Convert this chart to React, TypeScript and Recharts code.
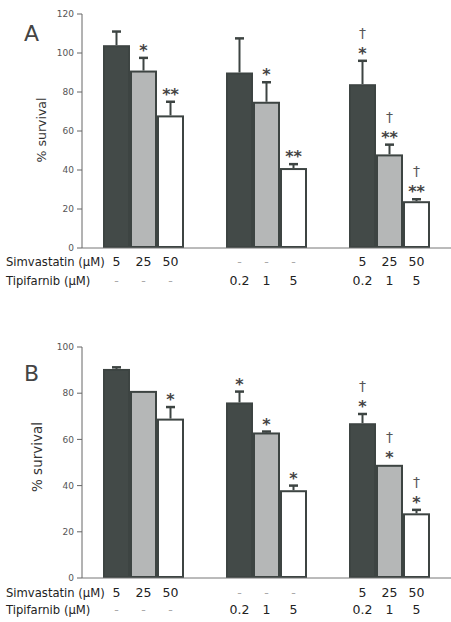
import React from 'react';
import { BarChart, Bar, XAxis, YAxis } from 'recharts';

// groups of treatment
const groups = ['simva', 'tipi', 'combo'];

// row labels under the bars
const simvaLabels = [['5', '25', '50'], ['-', '-', '-'], ['5', '25', '50']];
const tipiLabels = [['-', '-', '-'], ['0.2', '1', '5'], ['0.2', '1', '5']];

// panel A
const aDark = [104, 90, 84];
const aDarkErr = [7, 17.5, 12];
const aGray = [91, 75, 48];
const aGrayErr = [6.5, 10, 5];
const aWhite = [68, 41, 24];
const aWhiteErr = [7, 2, 1];
const aDarkSig = ['', '', '*'];
const aGraySig = ['*', '*', '**'];
const aWhiteSig = ['**', '**', '**'];
const aDarkDag = ['', '', '†'];
const aGrayDag = ['', '', '†'];
const aWhiteDag = ['', '', '†'];
const aTicks = [0, 20, 40, 60, 80, 100, 120];

// panel B
const bDark = [90.5, 76, 67];
const bDarkErr = [0.7, 4.7, 4];
const bGray = [81, 63, 49];
const bGrayErr = [0, 0.4, 0];
const bWhite = [69, 38, 28];
const bWhiteErr = [5, 2, 1.5];
const bDarkSig = ['', '*', '*'];
const bGraySig = ['', '*', '*'];
const bWhiteSig = ['*', '*', '*'];
const bDarkDag = ['', '', '†'];
const bGrayDag = ['', '', '†'];
const bWhiteDag = ['', '', '†'];
const bTicks = [0, 20, 40, 60, 80, 100];

const DARK = '#434a48';
const GRAY = '#b5b7b7';
const LINE = '#3d4442';
const FONT = '"DejaVu Sans", Verdana, sans-serif';
const BAR = 27;

const makeShape = (vals: number[], errs: number[], sigs: string[], dags: string[], fill: string) =>
  (props: any) => {
    const { x, y, width, height, index } = props;
    const v = vals[index];
    const ppu = v ? height / v : 0;
    const err = errs[index];
    const cx = x + width / 2;
    const errTop = y - err * ppu;
    const top = err > 0 ? errTop : y;
    return (
      <g>
        <rect x={x + 1} y={y + 1} width={width - 2} height={height - 2} fill={fill} stroke={LINE} strokeWidth={2} />
        {err > 0 && (
          <>
            <line x1={cx} x2={cx} y1={y} y2={errTop} stroke={LINE} strokeWidth={2} />
            <line x1={cx - 4.5} x2={cx + 4.5} y1={errTop} y2={errTop} stroke={LINE} strokeWidth={2.5} />
          </>
        )}
        {sigs[index] && (
          <text x={cx} y={top - 2} textAnchor="middle" fontSize={16} fontWeight="bold" fontFamily={FONT} fill="#444">
            {sigs[index]}
          </text>
        )}
        {dags[index] && (
          <text x={cx} y={top - 23} textAnchor="middle" fontSize={14} fontFamily={FONT} fill="#555">
            {dags[index]}
          </text>
        )}
      </g>
    );
  };

const RowTick = ({ x, y, payload, row1, row2 }: any) => {
  const i = payload.index;
  return (
    <g>
      {simvaLabels[i].map((s, k) => (
        <text key={'s' + k} x={x + (k - 1) * BAR} y={y + row1} textAnchor="middle" fontSize={12.5}
          fontFamily={FONT} fill={s === '-' ? '#aaa' : '#222'}>{s}</text>
      ))}
      {tipiLabels[i].map((s, k) => (
        <text key={'t' + k} x={x + (k - 1) * BAR} y={y + row2} textAnchor="middle" fontSize={12.5}
          fontFamily={FONT} fill={s === '-' ? '#aaa' : '#222'}>{s}</text>
      ))}
    </g>
  );
};

const Panel = ({ data, max, ticks, top, height, shapes, row1, row2 }: any) => (
  <div style={{ position: 'absolute', left: 0, top }}>
    <BarChart width={451} height={height} data={data} barGap={0} barSize={BAR}
      margin={{ top: max === 120 ? 14 : 47, right: 0, left: 52, bottom: 0 }}>
      <XAxis dataKey="g" tickLine={false} tickSize={0} tickMargin={0} stroke="#777"
        height={height - (max === 120 ? 248 : 278)} interval={0}
        tick={(p: any) => <RowTick {...p} row1={row1} row2={row2} />} />
      <YAxis domain={[0, max]} ticks={ticks} width={30} tickSize={5} tickMargin={3} stroke="#666"
        tick={{ fontSize: 9, fill: '#555', fontFamily: FONT }} />
      <Bar dataKey="dark" isAnimationActive={false} shape={shapes[0]} />
      <Bar dataKey="gray" isAnimationActive={false} shape={shapes[1]} />
      <Bar dataKey="white" isAnimationActive={false} shape={shapes[2]} />
    </BarChart>
  </div>
);

export default function App() {
  const dataA = groups.map((g, i) => ({ g, dark: aDark[i], gray: aGray[i], white: aWhite[i] }));
  const dataB = groups.map((g, i) => ({ g, dark: bDark[i], gray: bGray[i], white: bWhite[i] }));
  const shapesA = [
    makeShape(aDark, aDarkErr, aDarkSig, aDarkDag, DARK),
    makeShape(aGray, aGrayErr, aGraySig, aGrayDag, GRAY),
    makeShape(aWhite, aWhiteErr, aWhiteSig, aWhiteDag, '#fff'),
  ];
  const shapesB = [
    makeShape(bDark, bDarkErr, bDarkSig, bDarkDag, DARK),
    makeShape(bGray, bGrayErr, bGraySig, bGrayDag, GRAY),
    makeShape(bWhite, bWhiteErr, bWhiteSig, bWhiteDag, '#fff'),
  ];
  return (
    <div style={{ position: 'absolute', left: 0, top: 0, width: 451, height: 622, background: '#fff' }}>
      <Panel data={dataA} max={120} ticks={aTicks} top={0} height={300} shapes={shapesA} row1={18} row2={37} />
      <Panel data={dataB} max={100} ticks={bTicks} top={300} height={322} shapes={shapesB} row1={19} row2={36} />
      <svg width={451} height={622} style={{ position: 'absolute', left: 0, top: 0, pointerEvents: 'none' }}
        fontFamily={FONT}>
        <text x={24} y={41} fontSize={22} fill="#444">A</text>
        <text x={24} y={381} fontSize={22} fill="#444">B</text>
        <text transform="translate(46,130) rotate(-90)" textAnchor="middle" fontSize={12.5} fill="#333">% survival</text>
        <text transform="translate(42,457) rotate(-90)" textAnchor="middle" fontSize={13.5} fill="#333">% survival</text>
        <text x={6} y={266} fontSize={11.6} fill="#222">Simvastatin (μM)</text>
        <text x={6} y={285} fontSize={11.6} fill="#222">Tipifarnib (μM)</text>
        <text x={6} y={597} fontSize={11.6} fill="#222">Simvastatin (μM)</text>
        <text x={6} y={614} fontSize={11.6} fill="#222">Tipifarnib (μM)</text>
      </svg>
    </div>
  );
}
